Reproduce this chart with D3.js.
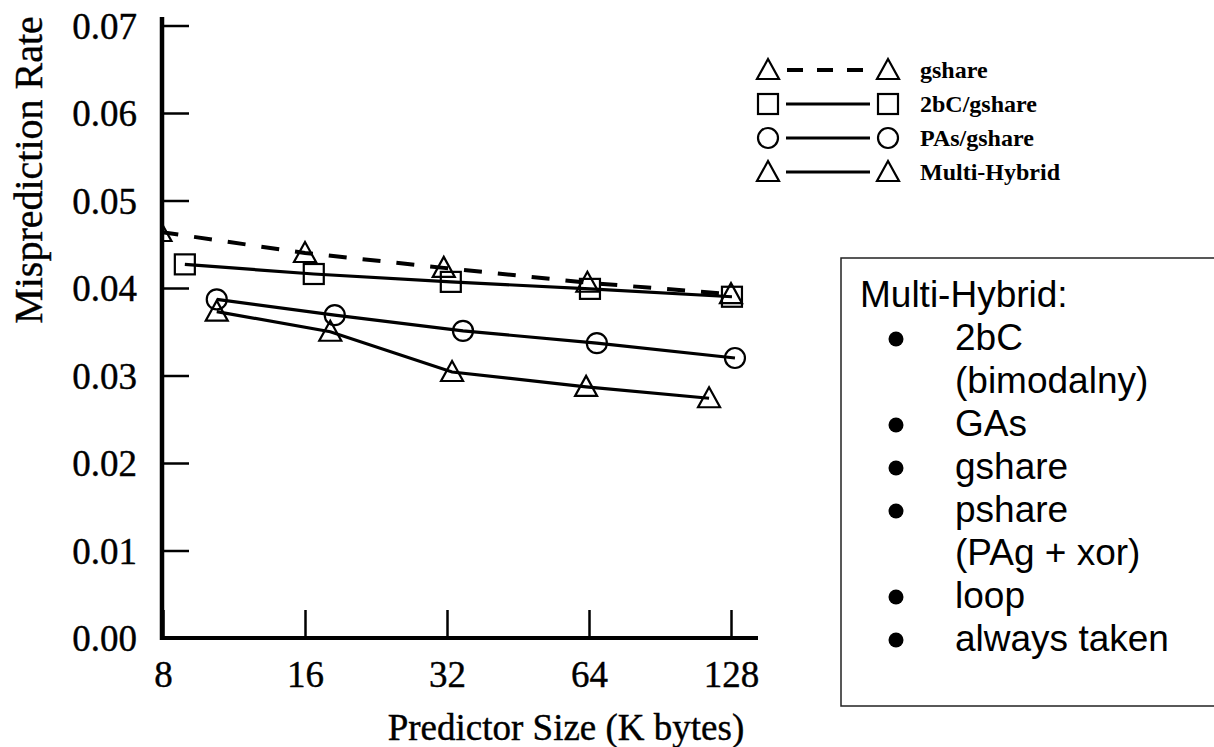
<!DOCTYPE html>
<html><head><meta charset="utf-8">
<script src="https://cdn.jsdelivr.net/npm/d3@7"></script>
<style>body{margin:0;background:#fff}svg{display:block}</style>
</head><body>
<svg id="c" width="1214" height="747"></svg>
<script>
// ---- data ----
const seriesNames = ["gshare", "2bC/gshare", "PAs/gshare", "Multi-Hybrid"];
const sizesGshare = [7.9, 16, 31.5, 63.5, 128];
const rateGshare  = [0.0464, 0.0440, 0.0423, 0.0406, 0.0393];
const sizes2bC    = [8.9, 16.7, 32.6, 64.3, 128.6];
const rate2bC     = [0.0427, 0.0416, 0.0407, 0.0399, 0.0390];
const sizesPAs    = [10.4, 18.5, 34.6, 66.5, 130.5];
const ratePAs     = [0.0387, 0.0369, 0.0351, 0.0337, 0.0320];
const sizesMH     = [10.4, 18.1, 32.8, 63.1, 115];
const rateMH      = [0.0373, 0.0350, 0.0304, 0.0287, 0.0274];
const xTicks = [8, 16, 32, 64, 128];
const yTicks = [0, 0.01, 0.02, 0.03, 0.04, 0.05, 0.06, 0.07];
const boxTitle = "Multi-Hybrid:";
const boxLines = [["2bC", "(bimodalny)"], ["GAs"], ["gshare"], ["pshare", "(PAg + xor)"], ["loop"], ["always taken"]];

const series = [
  {name: seriesNames[0], xs: sizesGshare, ys: rateGshare, sym: "tri", dash: true},
  {name: seriesNames[1], xs: sizes2bC, ys: rate2bC, sym: "sq", dash: false},
  {name: seriesNames[2], xs: sizesPAs, ys: ratePAs, sym: "ci", dash: false},
  {name: seriesNames[3], xs: sizesMH, ys: rateMH, sym: "tri", dash: false}
];

const svg = d3.select("#c");
const serif = "'Liberation Serif','Times New Roman',serif";
const sans = "'Liberation Sans',Arial,sans-serif";

const x = d3.scaleLog().base(2).domain([8, 128]).range([163, 731]);
const y = d3.scaleLinear().domain([0, 0.07]).range([638, 25.5]);

svg.append("defs").append("clipPath").attr("id", "clip")
  .append("rect").attr("x", 164).attr("y", 0).attr("width", 640).attr("height", 640);

// axes
const yAx = svg.append("g").attr("transform", "translate(162,0)")
  .call(d3.axisLeft(y).tickValues(yTicks).tickSize(-27).tickSizeOuter(0).tickPadding(25)
        .tickFormat(d3.format(".2f")));
yAx.select(".domain").remove();
yAx.selectAll("line").attr("stroke", "#000").attr("stroke-width", 2.5);
yAx.selectAll("text").attr("font-family", serif).attr("font-size", 37).attr("fill", "#000")
  .attr("stroke", "#000").attr("stroke-width", 0.4).attr("dy", "0.35em");

const xAx = svg.append("g").attr("transform", "translate(0,638)")
  .call(d3.axisBottom(x).tickValues(xTicks).tickSize(-28).tickSizeOuter(0).tickPadding(23)
        .tickFormat(d3.format("d")));
xAx.select(".domain").remove();
xAx.selectAll("line").attr("stroke", "#000").attr("stroke-width", 2.5);
xAx.selectAll("text").attr("font-family", serif).attr("font-size", 37).attr("fill", "#000")
  .attr("stroke", "#000").attr("stroke-width", 0.4).attr("dy", "0.71em");

svg.append("line").attr("x1", 162).attr("x2", 162).attr("y1", 17).attr("y2", 640)
  .attr("stroke", "#000").attr("stroke-width", 4.5);
svg.append("line").attr("x1", 160).attr("x2", 758).attr("y1", 638).attr("y2", 638)
  .attr("stroke", "#000").attr("stroke-width", 4);

svg.append("text").attr("transform", "translate(42,170) rotate(-90)")
  .attr("text-anchor", "middle").attr("font-family", serif).attr("font-size", 40)
  .attr("stroke", "#000").attr("stroke-width", 0.4)
  .text("Misprediction Rate");
svg.append("text").attr("x", 566).attr("y", 740)
  .attr("text-anchor", "middle").attr("font-family", serif).attr("font-size", 37)
  .attr("stroke", "#000").attr("stroke-width", 0.4)
  .text("Predictor Size (K bytes)");

// markers
function marker(g, sym, cx, cy) {
  if (sym === "tri") {
    g.append("path").attr("transform", `translate(${cx},${cy})`)
      .attr("d", "M0,-11 L11,9 L-11,9 Z").attr("fill", "none")
      .attr("stroke", "#000").attr("stroke-width", 2.2);
  } else if (sym === "sq") {
    g.append("rect").attr("x", cx - 10).attr("y", cy - 10).attr("width", 20).attr("height", 20)
      .attr("fill", "none").attr("stroke", "#000").attr("stroke-width", 2.2);
  } else {
    g.append("circle").attr("cx", cx).attr("cy", cy).attr("r", 10)
      .attr("fill", "none").attr("stroke", "#000").attr("stroke-width", 2.2);
  }
}

const line = d3.line().x(d => x(d[0])).y(d => y(d[1]));
const plot = svg.append("g").attr("clip-path", "url(#clip)");
series.forEach(s => {
  const pts = s.xs.map((v, i) => [v, s.ys[i]]);
  plot.append("path").datum(pts).attr("d", line).attr("fill", "none")
    .attr("stroke", "#000").attr("stroke-width", s.dash ? 4 : 3.2)
    .attr("stroke-dasharray", s.dash ? "18,16" : null);
  pts.forEach(p => marker(plot, s.sym, x(p[0]), y(p[1])));
});

// legend
const lg = svg.append("g");
series.forEach((s, i) => {
  const ly = 70 + i * 34;
  marker(lg, s.sym, 768, ly);
  lg.append("line").attr("x1", s.dash ? 787 : 786).attr("x2", 870).attr("y1", ly).attr("y2", ly)
    .attr("stroke", "#000").attr("stroke-width", s.dash ? 4 : 3)
    .attr("stroke-dasharray", s.dash ? "16,14" : null);
  marker(lg, s.sym, 888, ly);
  lg.append("text").attr("x", 920).attr("y", ly).attr("dy", "0.35em")
    .attr("font-family", serif).attr("font-weight", "bold").attr("font-size", 24)
    .text(s.name);
});

// text box
const bx = svg.append("g");
bx.append("rect").attr("x", 841).attr("y", 258).attr("width", 380).attr("height", 448)
  .attr("fill", "#fff").attr("stroke", "#222").attr("stroke-width", 1.5);
const lh = 43;
const top0 = 307;
bx.append("text").attr("x", 860).attr("y", top0).attr("font-family", sans).attr("font-size", 37)
  .text(boxTitle);
let row = 1;
boxLines.forEach(item => {
  const by = top0 + row * lh;
  bx.append("circle").attr("cx", 896).attr("cy", by - 11).attr("r", 7.5).attr("fill", "#000");
  item.forEach((t, j) => {
    bx.append("text").attr("x", 955).attr("y", top0 + (row + j) * lh)
      .attr("font-family", sans).attr("font-size", 37).text(t);
  });
  row += item.length;
});
</script>
</body></html>
